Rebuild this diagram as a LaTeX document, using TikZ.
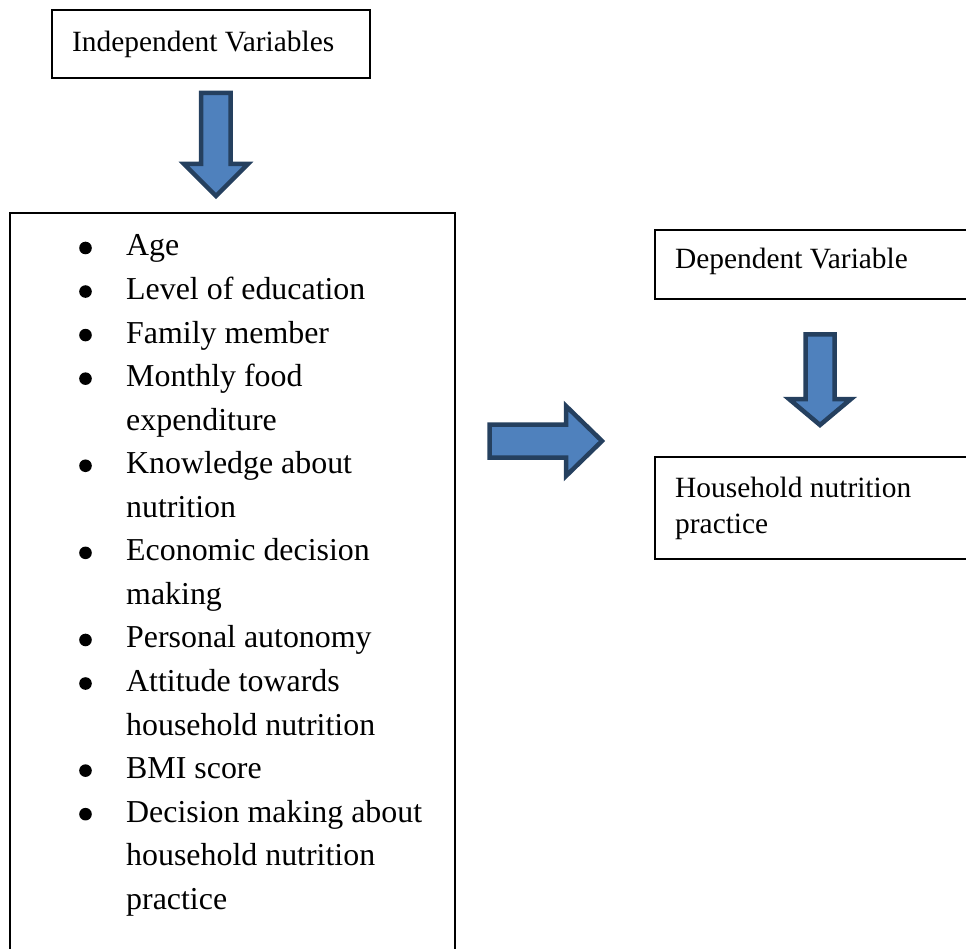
\documentclass[tikz,border=0pt]{standalone}
\usepackage{fontspec}
\setmainfont{Liberation Serif}
\usetikzlibrary{positioning}
\definecolor{arrowfill}{HTML}{4F81BD}
\definecolor{arrowline}{HTML}{25405F}

\begin{document}
\begin{tikzpicture}[x=1pt, y=-1pt,
    box/.style={draw=black, line width=1.6pt},
    boxtext/.style={anchor=base west, inner sep=0pt, font=\fontsize{29.4}{36}\selectfont},
    itemtext/.style={anchor=base west, inner sep=0pt, font=\fontsize{31.9}{43.5}\selectfont},
    blockarrow/.style={fill=arrowfill, draw=arrowline, line width=4.5pt, line join=miter}]

        \useasboundingbox (0,0) rectangle (966,949);
        \clip (0,0) rectangle (966,949);

        % --- Independent variables (left) ---
        \draw[box] (52,10) rectangle (370,78);
        \node[boxtext] (indep) at (72,52) {Independent Variables};

        \draw[blockarrow] (201,93) -- (230.5,93) -- (230.5,164) -- (248,164)
            -- (216,196) -- (184,164) -- (201,164) -- cycle;

        \draw[box] (10,213) rectangle (455,970);
        \foreach \i/\b/\txt in {0/1/Age, 1/1/Level of education, 2/1/Family member,
                3/1/Monthly food, 4/0/expenditure, 5/1/Knowledge about, 6/0/nutrition,
                7/1/Economic decision, 8/0/making, 9/1/Personal autonomy,
                10/1/Attitude towards, 11/0/household nutrition, 12/1/BMI score,
                13/1/Decision making about, 14/0/household nutrition, 15/0/practice} {
            \node[itemtext] (item\i) at (126,256+43.55*\i) {\txt};
            \ifnum\b=1 \fill (85.5,248+43.55*\i) circle (6.3); \fi
        }

        % --- Right arrow ---
        \draw[blockarrow] (489.5,424.5) -- (566,424.5) -- (566,406) -- (602,441)
            -- (566,476) -- (566,457.5) -- (489.5,457.5) -- cycle;

        % --- Dependent variable (right) ---
        \draw[box] (655,230) rectangle (990,299);
        \node[boxtext] (dep) at (675,269) {Dependent Variable};

        \draw[blockarrow] (805.5,334.5) -- (834.5,334.5) -- (834.5,399) -- (851,399)
            -- (820,425) -- (789,399) -- (805.5,399) -- cycle;

        \draw[box] (655,457) rectangle (990,559);
        \node[boxtext] (practice1) at (675,497) {Household nutrition};
        \node[boxtext] (practice2) at (675,533) {practice};
    \end{tikzpicture}
\end{document}
